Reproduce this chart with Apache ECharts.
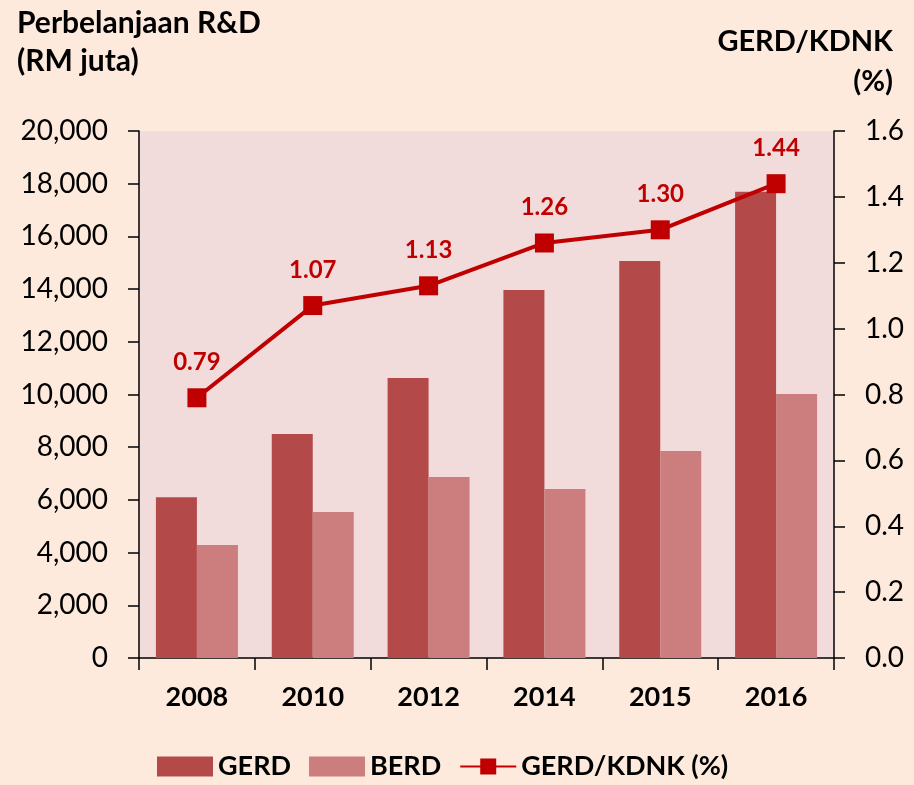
<!DOCTYPE html>
<html><head><meta charset="utf-8">
<script src="https://cdn.jsdelivr.net/npm/echarts@6/dist/echarts.min.js"></script>
<style>html,body{margin:0;padding:0;background:#FDEADD;}#c{width:914px;height:785px;}</style>
</head><body><div id="c"></div>
<script>
const years = ['2008','2010','2012','2014','2015','2016'];
const gerd = [6100, 8500, 10630, 13970, 15070, 17690];
const berd = [4290, 5540, 6870, 6410, 7860, 10020];
const ratio = [0.79, 1.07, 1.13, 1.26, 1.30, 1.44];
const leftTicks = [0, 20000, 2000];
const rightTicks = [0, 1.6, 0.2];

const FONT = 'Lato, "Open Sans", sans-serif';
const chart = echarts.init(document.getElementById('c'));
chart.setOption({
  backgroundColor: '#FDEADD',
  textStyle: {fontFamily: FONT},
  graphic: [
    {type:'text', left: 17, top: 4, style:{text:'Perbelanjaan R&D\n(RM juta)', font:'bold 30px '+FONT, fill:'#000', lineHeight: 38}},
    {type:'text', right: 21, top: 27, style:{text:'GERD/KDNK', font:'bold 29px '+FONT, fill:'#000'}},
    {type:'text', right: 21, top: 67, style:{text:'(%)', font:'bold 29px '+FONT, fill:'#000'}}
  ],
  legend: {
    bottom: 0, left: 152, itemGap: 18, itemWidth: 56, itemHeight: 20,
    textStyle: {fontSize: 27, fontWeight: 'bold', color: '#000', fontFamily: FONT},
    data: [
      {name:'GERD', icon:'rect'},
      {name:'BERD', icon:'rect'},
      {name:'GERD/KDNK (%)'}
    ]
  },
  grid: {left: 139, right: 80, top: 131, bottom: 127, show: true, backgroundColor: '#F2DCDB', borderWidth: 0},
  xAxis: {
    type: 'category', data: years,
    axisLine: {lineStyle: {color: '#000', width: 1.5}},
    axisTick: {show: true, length: 12, inside: false, lineStyle:{color:'#000', width:1.5}},
    axisLabel: {fontSize: 27, fontWeight: 'bold', color: '#000', margin: 26, fontFamily: FONT}
  },
  yAxis: [
    {type:'value', min: leftTicks[0], max: leftTicks[1], interval: leftTicks[2],
     axisLine:{show:true, lineStyle:{color:'#000', width:1.5}},
     axisTick:{show:true, length: 11, lineStyle:{color:'#000', width:1.5}},
     splitLine:{show:false},
     axisLabel:{fontSize: 28, color:'#000', margin: 31, fontFamily: FONT,
       formatter: v => v.toLocaleString('en-US')}},
    {type:'value', min: rightTicks[0], max: rightTicks[1], interval: rightTicks[2],
     position:'right',
     axisLine:{show:true, lineStyle:{color:'#000', width:1.5}},
     axisTick:{show:true, length: 11, lineStyle:{color:'#000', width:1.5}},
     splitLine:{show:false},
     axisLabel:{fontSize: 28, color:'#000', margin: 31, fontFamily: FONT,
       formatter: v => v.toFixed(1)}}
  ],
  series: [
    {name:'GERD', type:'bar', data: gerd, barWidth: 41, barGap: '0%', itemStyle:{color:'#B34A49'}},
    {name:'BERD', type:'bar', data: berd, barWidth: 41, barGap: '0%', itemStyle:{color:'#CB7E7D'}},
    {name:'GERD/KDNK (%)', type:'line', yAxisIndex: 1, data: ratio,
     symbol:'rect', symbolSize: 19, lineStyle:{color:'#C00000', width: 4}, itemStyle:{color:'#C00000'},
     label:{show:true, position:'top', distance: 14, fontSize: 24, fontWeight:'bold', color:'#C00000', fontFamily: FONT,
       formatter: p => p.value.toFixed(2)}}
  ]
});
</script></body></html>
